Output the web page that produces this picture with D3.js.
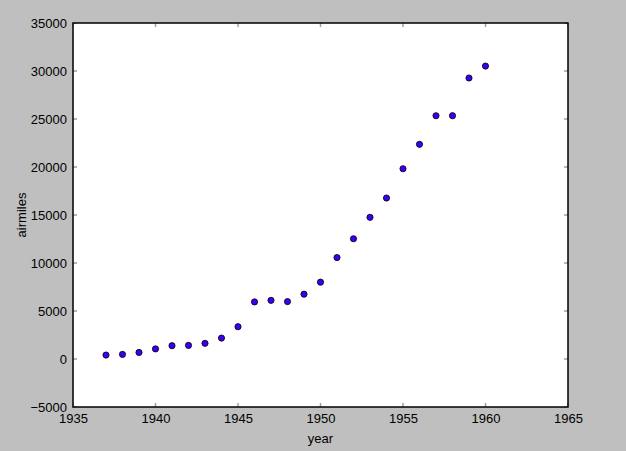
<!DOCTYPE html>
<html><head><meta charset="utf-8">
<script src="https://cdn.jsdelivr.net/npm/d3@7"></script>
<style>body{margin:0;background:#bfbfbf;}svg{display:block;}text{font-family:"Liberation Sans",Arial,sans-serif;}</style>
</head><body>
<svg id="c" width="626" height="451"></svg>
<script>
const years = [1937,1938,1939,1940,1941,1942,1943,1944,1945,1946,1947,1948,1949,1950,1951,1952,1953,1954,1955,1956,1957,1958,1959,1960];
const airmiles = [412,480,683,1052,1385,1418,1634,2178,3362,5948,6109,5981,6753,8003,10566,12528,14760,16769,19819,22362,25340,25343,29269,30514];
const xTicks = [1935,1940,1945,1950,1955,1960,1965];
const yTicks = [-5000,0,5000,10000,15000,20000,25000,30000,35000];

const svg = d3.select("#c");
const L=73, R=568, T=23, B=407;
const x = d3.scaleLinear().domain([1935,1965]).range([L,R]);
const y = d3.scaleLinear().domain([-5000,35000]).range([B,T]);

svg.append("rect").attr("x",L).attr("y",T).attr("width",R-L).attr("height",B-T).attr("fill","#fff");

const tl = 4;
const g = svg.append("g");
xTicks.forEach(v=>{
  g.append("line").attr("x1",x(v)).attr("x2",x(v)).attr("y1",B).attr("y2",B-tl).attr("stroke","#a0a0a0").attr("stroke-width",1.5);
  g.append("line").attr("x1",x(v)).attr("x2",x(v)).attr("y1",T).attr("y2",T+tl).attr("stroke","#a0a0a0").attr("stroke-width",1.5);
});
yTicks.forEach(v=>{
  g.append("line").attr("y1",y(v)).attr("y2",y(v)).attr("x1",L).attr("x2",L+tl).attr("stroke","#a0a0a0").attr("stroke-width",1.5);
  g.append("line").attr("y1",y(v)).attr("y2",y(v)).attr("x1",R).attr("x2",R-tl).attr("stroke","#a0a0a0").attr("stroke-width",1.5);
});

const xAxis = d3.axisBottom(x).tickValues(xTicks).tickFormat(d3.format("d")).tickSize(0).tickPadding(7);
svg.append("g").attr("transform",`translate(0,${B})`).call(xAxis)
  .call(s=>s.select(".domain").remove())
  .selectAll("text").attr("font-size",13).attr("fill","#000").style("font-family","'Liberation Sans',Arial,sans-serif");
const yAxis = d3.axisLeft(y).tickValues(yTicks).tickFormat(d=>d<0?"\u2212"+Math.abs(d):String(d)).tickSize(0).tickPadding(6);
svg.append("g").attr("transform",`translate(${L},0)`).call(yAxis)
  .call(s=>s.select(".domain").remove())
  .selectAll("text").attr("font-size",13).attr("fill","#000").style("font-family","'Liberation Sans',Arial,sans-serif");

svg.append("rect").attr("x",L).attr("y",T).attr("width",R-L).attr("height",B-T).attr("fill","none").attr("stroke","#000").attr("stroke-width",1.5);

svg.append("g").selectAll("circle").data(years).join("circle")
  .attr("cx",(d)=>x(d)).attr("cy",(d,i)=>y(airmiles[i])).attr("r",3.1)
  .attr("fill","#3a00f5").attr("stroke","#000").attr("stroke-width",0.8);

svg.append("text").attr("x",(L+R)/2).attr("y",443).attr("text-anchor","middle").attr("font-size",13).text("year");
svg.append("text").attr("transform",`translate(26,${(T+B)/2}) rotate(-90)`).attr("text-anchor","middle").attr("font-size",13).text("airmiles");
</script>
</body></html>
